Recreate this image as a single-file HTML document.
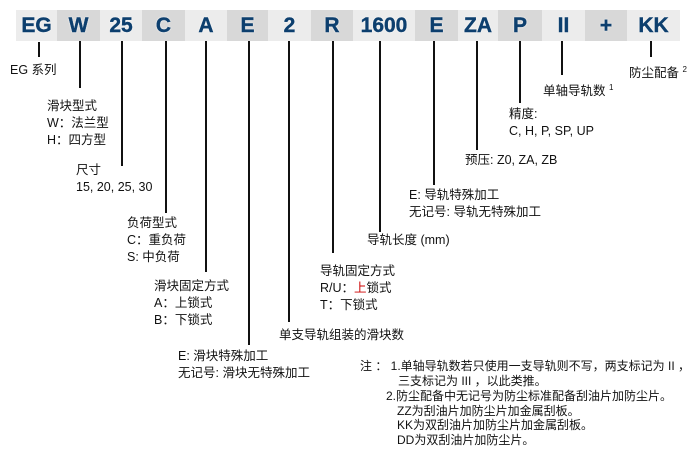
<!DOCTYPE html>
<html><head><meta charset="utf-8"><style>
body{margin:0;width:700px;height:449px;background:#fff;position:relative;overflow:hidden;font-family:"Liberation Sans","Noto Sans CJK SC",sans-serif;}
.b{position:absolute;top:10px;height:31px;font:bold 21px/31px "Liberation Sans",sans-serif;color:#0d3f6e;text-align:center;-webkit-text-stroke:0.4px #0d3f6e;text-shadow:0 0 2px #fff,0 0 1px #fff;}
.l{background:#ececec}.d{background:#d8d8d8}
.v{position:absolute;width:2px;background:#111;top:41px}
.t{position:absolute;font-size:12.5px;line-height:17px;color:#111;white-space:nowrap}
.n{position:absolute;font-size:12px;line-height:15px;color:#111;white-space:nowrap}
sup{font-size:8px}
</style></head><body>
<div class="b l" style="left:16px;width:41px">EG</div>
<div class="b d" style="left:57px;width:43px">W</div>
<div class="b l" style="left:100px;width:42px">25</div>
<div class="b d" style="left:142px;width:43px">C</div>
<div class="b l" style="left:185px;width:42px">A</div>
<div class="b d" style="left:227px;width:41px">E</div>
<div class="b l" style="left:268px;width:43px">2</div>
<div class="b d" style="left:311px;width:42px">R</div>
<div class="b l" style="left:353px;width:62px">1600</div>
<div class="b d" style="left:415px;width:43px">E</div>
<div class="b l" style="left:458px;width:40px">ZA</div>
<div class="b d" style="left:498px;width:44px">P</div>
<div class="b l" style="left:542px;width:43px">II</div>
<div class="b d" style="left:585px;width:42px">+</div>
<div class="b l" style="left:627px;width:53px">KK</div>

<div class="v" style="left:38px;top:42px;height:15px"></div>
<div class="v" style="left:79px;height:47px"></div>
<div class="v" style="left:121px;height:125px"></div>
<div class="v" style="left:165px;height:172px"></div>
<div class="v" style="left:205px;height:231px"></div>
<div class="v" style="left:248px;height:304px"></div>
<div class="v" style="left:288px;height:281px"></div>
<div class="v" style="left:332px;height:212px"></div>
<div class="v" style="left:379px;height:191px"></div>
<div class="v" style="left:433px;height:144px"></div>
<div class="v" style="left:476px;height:109px"></div>
<div class="v" style="left:519px;height:62px"></div>
<div class="v" style="left:561px;height:34px"></div>
<div class="v" style="left:650px;height:16px"></div>

<div class="t" style="left:10px;top:62px">EG 系列</div>
<div class="t" style="left:47px;top:98px">滑块型式<br>W：法兰型<br>H：四方型</div>
<div class="t" style="left:76px;top:162px">尺寸<br>15, 20, 25, 30</div>
<div class="t" style="left:127px;top:215px">负荷型式<br>C：重负荷<br>S: 中负荷</div>
<div class="t" style="left:154px;top:278px">滑块固定方式<br>A：上锁式<br>B：下锁式</div>
<div class="t" style="left:178px;top:348px">E: 滑块特殊加工<br>无记号: 滑块无特殊加工</div>
<div class="t" style="left:279px;top:327px">单支导轨组装的滑块数</div>
<div class="t" style="left:320px;top:263px">导轨固定方式<br>R/U：<span style="color:#c00">上</span>锁式<br>T：下锁式</div>
<div class="t" style="left:367px;top:232px">导轨长度 (mm)</div>
<div class="t" style="left:409px;top:187px">E: 导轨特殊加工<br>无记号: 导轨无特殊加工</div>
<div class="t" style="left:465px;top:152px">预压: Z0, ZA, ZB</div>
<div class="t" style="left:509px;top:106px">精度:<br>C, H, P, SP, UP</div>
<div class="t" style="left:543px;top:79px">单轴导轨数 <sup>1</sup></div>
<div class="t" style="left:629px;top:61px">防尘配备 <sup>2</sup></div>

<div class="n" style="left:360px;top:359px">注 ： 1.单轴导轨数若只使用一支导轨则不写，两支标记为 II ，</div>
<div class="n" style="left:398px;top:374px">三支标记为 III ，以此类推。</div>
<div class="n" style="left:386px;top:389px">2.防尘配备中无记号为防尘标准配备刮油片加防尘片。</div>
<div class="n" style="left:397px;top:404px">ZZ为刮油片加防尘片加金属刮板。</div>
<div class="n" style="left:397px;top:418px">KK为双刮油片加防尘片加金属刮板。</div>
<div class="n" style="left:397px;top:433px">DD为双刮油片加防尘片。</div>
</body></html>
